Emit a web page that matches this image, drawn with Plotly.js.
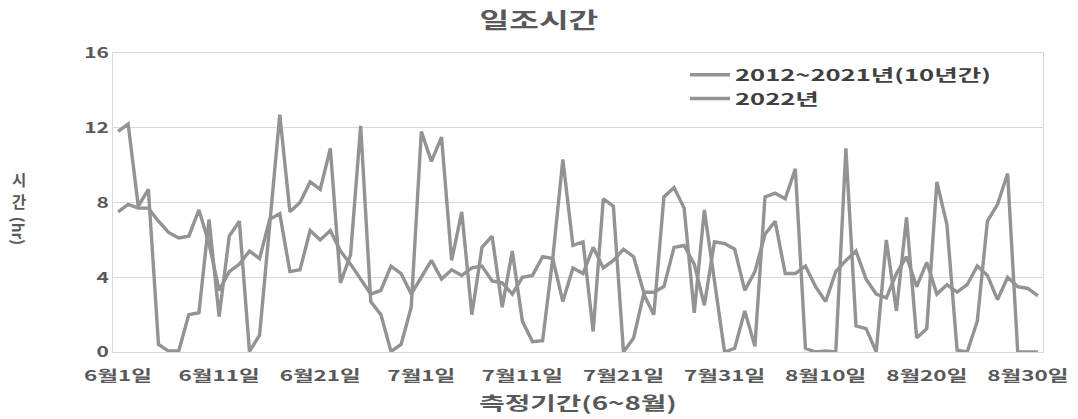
<!DOCTYPE html>
<html>
<head>
<meta charset="utf-8">
<script src="https://cdn.plot.ly/plotly-3.0.1.min.js"></script>
<style>
html,body{margin:0;padding:0;background:#fff;}
#chart{width:1078px;height:419px;}
</style>
</head>
<body>
<div id="chart"></div>
<script>
// Categories: 6월1일 ... 8월31일
const months = [6, 7, 8];
const monthDays = [30, 31, 31];
const dates = [];
months.forEach((m, k) => { for (let d = 1; d <= monthDays[k]; d++) dates.push(m + '월' + d + '일'); });

const tickLabels = ['6월1일','6월11일','6월21일','7월1일','7월11일','7월21일','7월31일','8월10일','8월20일','8월30일'];

const avg10 = [
  7.5, 7.9, 7.7, 7.7, 7.0, 6.4, 6.1, 6.2, 7.6, 5.8,
  3.3, 4.3, 4.7, 5.4, 5.0, 7.1, 7.4, 4.3, 4.4, 6.5,
  6.0, 6.5, 5.4, 4.7, 3.9, 3.1, 3.3, 4.6, 4.2, 3.1,
  4.0, 4.9, 3.9, 4.4, 4.1, 4.5, 4.6, 3.8, 3.7, 3.1,
  4.0, 4.1, 5.1, 5.0, 2.7, 4.5, 4.2, 5.6, 4.5, 4.9,
  5.5, 5.1, 3.2, 3.2, 3.5, 5.6, 5.7, 4.7, 2.5, 5.9,
  5.8, 5.5, 3.3, 4.3, 6.3, 7.0, 4.2, 4.2, 4.6, 3.5,
  2.7, 4.3, 4.9, 5.4, 3.9, 3.1, 2.9, 4.2, 5.1, 3.5,
  4.8, 3.1, 3.6, 3.2, 3.6, 4.6, 4.1, 2.8, 4.0, 3.5,
  3.4, 3.0
];

const y2022 = [
  11.8, 12.2, 7.8, 8.7, 0.4, 0.05, 0.05, 2.0, 2.1, 7.1,
  1.9, 6.2, 7.0, 0.03, 0.9, 6.8, 12.7, 7.5, 8.0, 9.1,
  8.7, 10.9, 3.7, 5.2, 12.1, 2.7, 2.0, 0.03, 0.4, 2.4,
  11.8, 10.2, 11.5, 4.9, 7.5, 2.0, 5.6, 6.2, 2.4, 5.4,
  1.65, 0.55, 0.6, 5.0, 10.3, 5.7, 5.9, 1.1, 8.2, 7.8,
  0.0, 0.75, 3.1, 2.0, 8.3, 8.8, 7.7, 2.1, 7.6, 3.8,
  0.0, 0.2, 2.2, 0.3, 8.3, 8.5, 8.2, 9.8, 0.2, 0.0,
  0.05, 0.0, 10.9, 1.4, 1.25, 0.0, 6.0, 2.2, 7.2, 0.75,
  1.25, 9.1, 6.8, 0.1, 0.0, 1.65, 7.0, 7.9, 9.55, 0.0,
  0.0, 0.0
];

const seriesNames = ['2012~2021년(10년간)', '2022년'];
const yTitleParts = ['시', '간', '(hr)'];

const lineColor = '#939393';
const fontFam = '"Noto Sans CJK KR", "Noto Sans", sans-serif';
const textColor = '#595959';

const traces = [
  {x: dates, y: avg10, name: seriesNames[0], type: 'scatter', mode: 'lines',
   line: {color: lineColor, width: 3.4}},
  {x: dates, y: y2022, name: seriesNames[1], type: 'scatter', mode: 'lines',
   line: {color: lineColor, width: 3.4}}
];

const yTitleY = [0.579, 0.505, 0.405];
const annotations = yTitleParts.map((t, k) => ({
  text: '<b>' + t + '</b>', xref: 'paper', yref: 'paper', x: -0.101, y: yTitleY[k],
  xanchor: 'center', yanchor: 'middle', showarrow: false,
  textangle: k === 2 ? 90 : 0,
  font: {family: fontFam, size: 15.5, color: textColor}
}));

const layout = {
  width: 1078, height: 419,
  margin: {l: 113, r: 35, t: 53, b: 67},
  paper_bgcolor: '#ffffff', plot_bgcolor: '#ffffff',
  font: {family: fontFam, color: textColor},
  title: {text: '<b>일조시간</b>', x: 0.5, xanchor: 'center', y: 0.952, yanchor: 'middle',
          font: {family: fontFam, size: 21.5, color: textColor}},
  showlegend: true,
  legend: {x: 0.615, y: 0.984, xanchor: 'left', yanchor: 'top', bgcolor: 'rgba(0,0,0,0)',
           font: {family: fontFam, size: 16, color: '#404040', weight: 'bold'},
           tracegroupgap: 0, itemwidth: 40},
  xaxis: {
    type: 'category',
    range: [-0.5, dates.length - 0.5],
    tickmode: 'array', tickvals: tickLabels, ticktext: tickLabels.map(t => '<b>' + t + '</b>'),
    tickangle: 0,
    tickfont: {family: fontFam, size: 15, color: textColor},
    ticklabelstandoff: 10,
    showgrid: false, zeroline: false,
    showline: true, linecolor: '#d9d9d9', linewidth: 1, mirror: true,
    ticks: '', ticklen: 0,
    title: {text: '<b>측정기간(6~8월)</b>', standoff: 13,
            font: {family: fontFam, size: 18.5, color: textColor}}
  },
  yaxis: {
    range: [0, 16], dtick: 4, tick0: 0,
    tickfont: {family: fontFam, size: 15, color: textColor, weight: 'bold'},
    showgrid: true, gridcolor: '#d9d9d9', gridwidth: 1,
    zeroline: false,
    showline: true, linecolor: '#d9d9d9', linewidth: 1, mirror: true,
    ticks: '', ticklabelstandoff: 0
  },
  annotations: annotations
};

// Horizontal stretch of text to match the reference's wide lettering
function stretchText(gd, selector, s) {
  gd.querySelectorAll(selector).forEach(el => {
    const bb = el.getBBox();
    const anchor = el.getAttribute('text-anchor') || getComputedStyle(el).textAnchor || 'start';
    let px = bb.x;
    if (anchor === 'middle') px = bb.x + bb.width / 2;
    else if (anchor === 'end') px = bb.x + bb.width;
    const t = el.getAttribute('transform') || '';
    el.setAttribute('transform', (t + ' translate(' + px + ',0) scale(' + s + ',1) translate(' + (-px) + ',0)').trim());
  });
}

Plotly.newPlot('chart', traces, layout, {displayModeBar: false, staticPlot: true}).then(gd => {
  // let stretched legend text show in full
  gd.querySelectorAll('.legend [clip-path]').forEach(el => el.removeAttribute('clip-path'));
  stretchText(gd, '.gtitle', 1.5);
  stretchText(gd, '.xtick text', 1.5);
  stretchText(gd, '.ytick text', 1.4);
  stretchText(gd, '.legendtext', 1.6);
  stretchText(gd, '.g-xtitle text', 1.5);
});
</script>
</body>
</html>
